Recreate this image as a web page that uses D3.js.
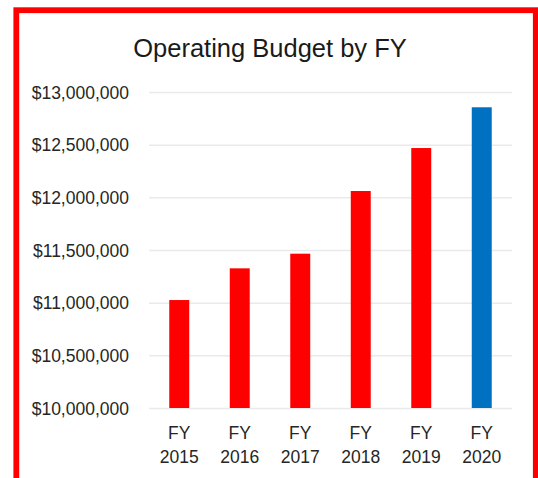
<!DOCTYPE html>
<html><head><meta charset="utf-8">
<script src="https://cdn.jsdelivr.net/npm/d3@7"></script>
<style>html,body{margin:0;padding:0;background:#fff;overflow:hidden}</style>
</head><body>
<svg id="c" width="538" height="478"></svg>
<script>
const categories = ["FY 2015","FY 2016","FY 2017","FY 2018","FY 2019","FY 2020"];
const values = [11025000, 11326000, 11465000, 12060000, 12468000, 12855000];
const barColors = ["#ff0000","#ff0000","#ff0000","#ff0000","#ff0000","#0070c0"];
const yTicks = [10000000,10500000,11000000,11500000,12000000,12500000,13000000];
const title = "Operating Budget by FY";

const svg = d3.select("#c");
const font = "'Liberation Sans', Arial, sans-serif";
const m = {left:149, right:512, top:92, bottom:408};

const x = d3.scaleBand().domain(categories).range([m.left, m.right]).paddingInner(0.67).paddingOuter(0.335);
const y = d3.scaleLinear().domain([10000000, 13000000]).range([m.bottom, m.top]);

// border
svg.append("rect").attr("x",16.3).attr("y",10.2).attr("width",519.5).attr("height",520)
  .attr("fill","none").attr("stroke","#ff0000").attr("stroke-width",5.8);

// title
svg.append("text").attr("x",270).attr("y",57).attr("text-anchor","middle")
  .attr("font-family",font).attr("font-size",25.5).attr("fill","#1a1a1a").text(title);

// grid
const yAxis = d3.axisLeft(y).tickValues(yTicks).tickSize(-(m.right-m.left)).tickPadding(20)
  .tickFormat(d => "$" + d3.format(",")(d));
const ga = svg.append("g").attr("transform",`translate(${m.left},0)`).call(yAxis);
ga.select(".domain").remove();
ga.selectAll(".tick line").attr("stroke","#eaeaea").attr("stroke-width",1.5);
ga.selectAll(".tick text").attr("font-family",font).attr("font-size",17.5).attr("fill","#262626")
  .attr("dy","0.36em");

// bars
svg.append("g").selectAll("rect").data(values).join("rect")
  .attr("x",(d,i)=>x(categories[i])).attr("width",x.bandwidth())
  .attr("y",d=>y(d)).attr("height",d=>y(10000000)-y(d))
  .attr("fill",(d,i)=>barColors[i]);

// x labels
const xl = svg.append("g").selectAll("text").data(categories).join("text")
  .attr("x",d=>x(d)+x.bandwidth()/2).attr("text-anchor","middle")
  .attr("font-family",font).attr("font-size",17.5).attr("fill","#262626");
xl.append("tspan").attr("x",d=>x(d)+x.bandwidth()/2).attr("y",439).text(d=>d.split(" ")[0]);
xl.append("tspan").attr("x",d=>x(d)+x.bandwidth()/2).attr("y",463).text(d=>d.split(" ")[1]);
</script>
</body></html>
